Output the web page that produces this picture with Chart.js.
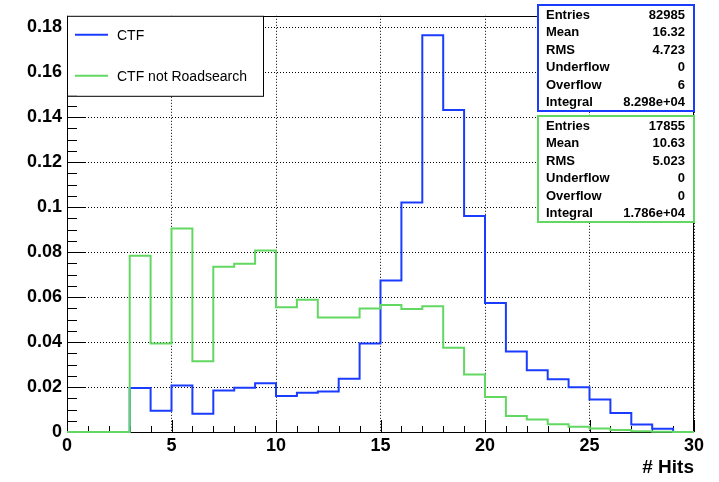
<!DOCTYPE html>
<html>
<head>
<meta charset="utf-8">
<script src="https://cdn.jsdelivr.net/npm/chart.js@4/dist/chart.umd.min.js"></script>
<style>
  html, body { margin: 0; padding: 0; background: #fff; }
  #wrap { width: 719px; height: 482px; }
</style>
</head>
<body>
<div id="wrap"><canvas id="c" width="719" height="482"></canvas></div>
<script>
// Hit-count histograms, 30 bins of width 1 over [0, 30), normalised to unit area
const binCount = 30;
const ctfValues = [
  0, 0, 0, 0.0196, 0.0094, 0.0207, 0.0081, 0.0184, 0.0197, 0.0217,
  0.0160, 0.0174, 0.0180, 0.0237, 0.0393, 0.0673, 0.1020, 0.1763, 0.1431, 0.0960,
  0.0573, 0.0358, 0.0274, 0.0235, 0.0199, 0.0144, 0.0085, 0.0033, 0.0014, 0
];
const ctfNotRsValues = [
  0, 0, 0, 0.0783, 0.0393, 0.0905, 0.0314, 0.0734, 0.0748, 0.0807,
  0.0554, 0.0588, 0.0509, 0.0509, 0.0549, 0.0565, 0.0547, 0.0559, 0.0374, 0.0256,
  0.0156, 0.0071, 0.0056, 0.0035, 0.0023, 0.0016, 0.0009, 0.0003, 0.0001, 0
];
const seriesNames = ['CTF', 'CTF not Roadsearch'];
const xTitle = '# Hits';

// Statistics boxes
const statLabels = ['Entries', 'Mean', 'RMS', 'Underflow', 'Overflow', 'Integral'];
const ctfStats = ['82985', '16.32', '4.723', '0', '6', '8.298e+04'];
const ctfNotRsStats = ['17855', '10.63', '5.023', '0', '0', '1.786e+04'];

const BLUE = '#1a3cff';
const GREEN = '#62d862';
const FONT = "'Liberation Sans', Arial, Helvetica, sans-serif";

// Bin left edges plus a closing point at the upper edge, drawn as steps
function histPoints(values) {
  const pts = [];
  for (let i = 0; i < binCount; i++) pts.push({ x: i, y: values[i] });
  pts.push({ x: binCount, y: 0 });
  return pts;
}

const frameAndTicks = {
  id: 'frameAndTicks',
  beforeDatasetsDraw(chart) {
    const { ctx, chartArea: a, scales } = chart;
    const xs = scales.x, ys = scales.y;
    ctx.save();
    ctx.strokeStyle = '#000';
    ctx.lineWidth = 1;
    ctx.beginPath();
    // y axis ticks, inside the frame
    for (let k = 0; k <= 37; k++) {
      const v = k * 0.005;
      if (v > ys.max + 1e-9) break;
      const py = Math.round(ys.getPixelForValue(v)) + 0.5;
      const len = (k % 4 === 0) ? 19 : 10;
      ctx.moveTo(a.left, py);
      ctx.lineTo(a.left + len, py);
    }
    // x axis ticks, pointing up
    for (let v = 0; v <= xs.max; v++) {
      const px = Math.round(xs.getPixelForValue(v)) + 0.5;
      const len = (v % 5 === 0) ? 12 : 6;
      ctx.moveTo(px, a.bottom);
      ctx.lineTo(px, a.bottom - len);
    }
    ctx.stroke();
    ctx.strokeRect(Math.round(a.left) + 0.5, Math.round(a.top) + 0.5,
                   Math.round(a.right - a.left) - 1, Math.round(a.bottom - a.top));
    ctx.restore();
  },
  afterDraw(chart) {
    const { ctx, chartArea: a } = chart;
    const ds = chart.data.datasets;
    ctx.save();

    // legend box
    const lx = a.left, ly = a.top, lw = 196, lh = 80;
    ctx.fillStyle = '#fff';
    ctx.fillRect(lx, ly, lw, lh);
    ctx.strokeStyle = '#000';
    ctx.lineWidth = 1;
    ctx.strokeRect(lx + 0.5, ly + 0.5, lw, lh);
    ctx.font = '14px ' + FONT;
    ctx.textBaseline = 'middle';
    ctx.textAlign = 'left';
    const legendRows = [ly + 19, ly + 60];
    ds.forEach((d, i) => {
      const y = legendRows[i];
      ctx.strokeStyle = d.borderColor;
      ctx.lineWidth = 2;
      ctx.beginPath();
      ctx.moveTo(lx + 8, y);
      ctx.lineTo(lx + 41, y);
      ctx.stroke();
      ctx.fillStyle = '#000';
      ctx.fillText(d.label, lx + 50, y + 1);
    });

    // statistics boxes
    const boxes = [
      { vals: ctfStats, color: BLUE, top: 5 },
      { vals: ctfNotRsStats, color: GREEN, top: 116 }
    ];
    const bx = 538, bw = 156, bh = 106;
    ctx.font = 'bold 13px ' + FONT;
    boxes.forEach(b => {
      ctx.fillStyle = '#fff';
      ctx.fillRect(bx, b.top, bw, bh);
      ctx.strokeStyle = b.color;
      ctx.lineWidth = 2;
      ctx.strokeRect(bx, b.top, bw, bh);
      ctx.fillStyle = '#000';
      statLabels.forEach((lab, r) => {
        const y = b.top + 10.5 + r * 17.4;
        ctx.textAlign = 'left';
        ctx.fillText(lab, bx + 8, y);
        ctx.textAlign = 'right';
        ctx.fillText(b.vals[r], bx + bw - 9, y);
      });
    });
    ctx.restore();
  }
};

new Chart(document.getElementById('c'), {
  type: 'line',
  data: {
    datasets: [
      {
        label: seriesNames[0],
        data: histPoints(ctfValues),
        borderColor: BLUE,
        borderWidth: 2,
        stepped: true,
        pointRadius: 0,
        fill: false,
        clip: 3,
        order: 1
      },
      {
        label: seriesNames[1],
        data: histPoints(ctfNotRsValues),
        borderColor: GREEN,
        borderWidth: 2,
        stepped: true,
        pointRadius: 0,
        fill: false,
        clip: 3,
        order: 0
      }
    ]
  },
  options: {
    responsive: false,
    animation: false,
    events: [],
    layout: { padding: { top: 6, right: 25, left: 0, bottom: 0 } },
    plugins: { legend: { display: false }, tooltip: { enabled: false } },
    scales: {
      x: {
        type: 'linear',
        min: 0,
        max: 30,
        afterFit(s) { s.height = 50; },
        ticks: {
          stepSize: 5,
          color: '#000',
          padding: 3,
          maxRotation: 0,
          font: { family: FONT, size: 18, weight: 'bold' }
        },
        grid: { color: '#000', lineWidth: 1, drawTicks: false },
        border: { display: false, dash: [1, 2] },
        title: {
          display: true,
          text: xTitle,
          align: 'end',
          color: '#000',
          padding: { top: 0, bottom: 3 },
          font: { family: FONT, size: 19, weight: 'bold' }
        }
      },
      y: {
        type: 'linear',
        min: 0,
        max: 0.185,
        afterFit(s) { s.width = 67; },
        ticks: {
          stepSize: 0.02,
          includeBounds: false,
          color: '#000',
          padding: 5,
          font: { family: FONT, size: 18, weight: 'bold' },
          callback: v => String(+v.toFixed(2))
        },
        grid: { color: '#000', lineWidth: 1, drawTicks: false },
        border: { display: false, dash: [1, 2] }
      }
    }
  },
  plugins: [frameAndTicks]
});
</script>
</body>
</html>
